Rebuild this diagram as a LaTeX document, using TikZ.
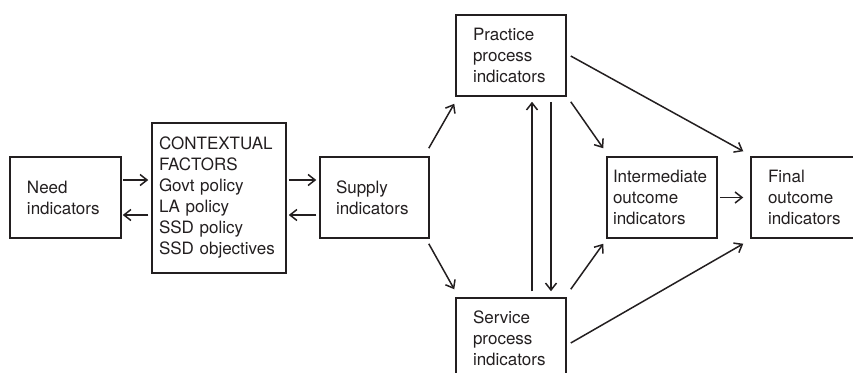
\documentclass[tikz,border=0pt]{standalone}
\usepackage{fontspec}
\setmainfont{TeX Gyre Heros}
\usetikzlibrary{arrows.meta,calc}
\definecolor{ink}{HTML}{231F20}
\begin{document}
\begin{tikzpicture}[x=1pt,y=-1pt,
  box/.style={draw=ink, line width=1.5pt, minimum height=81pt, align=left,
    inner ysep=0pt, text=ink, font=\fontsize{17}{21}\selectfont},
  arr/.style={draw=ink, line width=1.5pt,
    -{Straight Barb[length=7pt,width=11pt,line width=1.5pt]}}]
\useasboundingbox (0,0) rectangle (853,372);
\clip (0,0) rectangle (853,372);

% indicator boxes
\node[box, text width=77pt, inner xsep=17pt] (need) at (65.5,197.5)
  {Need\\indicators};
\node[box, text width=120pt, inner xsep=7pt, minimum height=150pt] (ctx) at (219,198)
  {CONTEXTUAL\\FACTORS\\Govt policy\\LA policy\\SSD policy\\SSD objectives};
\node[box, text width=77pt, inner xsep=16pt] (supply) at (374.5,197.5)
  {Supply\\indicators};
\node[box, text width=76pt, inner xsep=17pt] (prac) at (511,55.5)
  {Practice\\process\\indicators};
\node[box, text width=76pt, inner xsep=17pt] (serv) at (511,338.5)
  {Service\\process\\indicators};
\node[box, text width=98pt, inner xsep=6pt] (inter) at (662,197.5)
  {Intermediate\\outcome\\indicators};
\node[box, text width=76pt, inner xsep=17pt] (final) at (806,197.5)
  {Final\\outcome\\indicators};

% connectors
\draw[arr] ($(need.east)+(1,-17.5)$) -- ($(ctx.west)+(-3,-18)$);
\draw[arr] ($(ctx.west)+(-3,17)$) -- ($(need.east)+(1,17.5)$);
\draw[arr] ($(ctx.east)+(2,-18)$) -- ($(supply.west)+(-3,-17.5)$);
\draw[arr] ($(supply.west)+(-3,17.5)$) -- ($(ctx.east)+(2,17)$);
\draw[arr] ($(supply.north east)+(-1,-8)$) -- ($(prac.south west)+(-1,7)$);
\draw[arr] ($(supply.south east)+(-1,5)$) -- ($(serv.north west)+(-1,-8)$);
\draw[arr] ($(serv.north)+(21,-6)$) -- ($(prac.south)+(21,5)$);
\draw[arr] ($(prac.south)+(40,5)$) -- ($(serv.north)+(40,-6)$);
\draw[arr] ($(prac.south east)+(4,5)$) -- ($(inter.north west)+(-3,-8)$);
\draw[arr] ($(serv.north east)+(4,-8)$) -- ($(inter.south west)+(-3,5)$);
\draw[arr] ($(prac.east)+(4,0.5)$) -- ($(final.north west)+(-7,-5)$);
\draw[arr] ($(serv.east)+(4,4.5)$) -- ($(final.south west)+(-7,5)$);
\draw[arr] ($(inter.east)+(2,0)$) -- ($(final.west)+(-7,0)$);
\end{tikzpicture}
\end{document}
